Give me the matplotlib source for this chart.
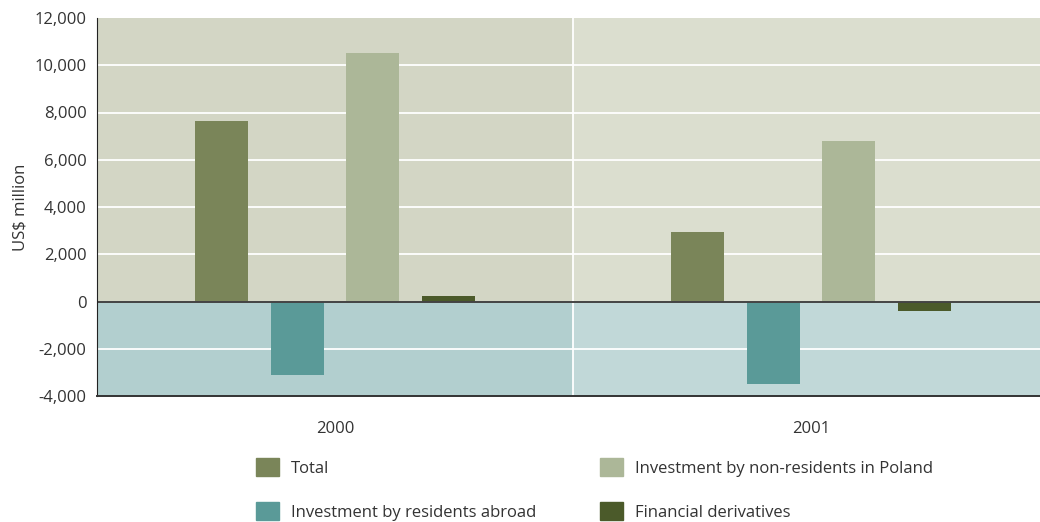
import matplotlib.pyplot as plt
from matplotlib.patches import Rectangle, Patch
from matplotlib.ticker import FuncFormatter

plt.rcParams['font.family'] = ['Open Sans', 'DejaVu Sans']

# Portfolio investment flows, US$ million
years = ['2000', '2001']
series_names = ['Total', 'Investment by residents abroad',
                'Investment by non-residents in Poland', 'Financial derivatives']
total = [7660, 2960]
residents_abroad = [-3130, -3510]
non_residents = [10500, 6810]
derivatives = [250, -420]
y_ticks = [-4000, -2000, 0, 2000, 4000, 6000, 8000, 10000, 12000]

series = [total, residents_abroad, non_residents, derivatives]
colors = ['#7a8559', '#5a9a98', '#acb798', '#4b5a2a']
fs = 12

fig = plt.figure(figsize=(10.4, 5.22), dpi=100)
ax = fig.add_axes([97 / 1040, 1 - 396 / 522, 943 / 1040, 378 / 522])

x_left, x_right = -0.5, -0.5 + 943 / 476
y_low, y_high = y_ticks[0], y_ticks[-1]

# shaded panels: positive / negative halves, one column per year
panel_colors = [('#d3d6c5', '#b2cfcf'), ('#dbdecf', '#c1d8d8')]
for i, (upper, lower) in enumerate(panel_colors):
    ax.add_patch(Rectangle((i - 0.5, 0), 1, y_high, color=upper, lw=0, zorder=0))
    ax.add_patch(Rectangle((i - 0.5, y_low), 1, -y_low, color=lower, lw=0, zorder=0))

for t in y_ticks[1:-1]:
    if t != 0:
        ax.axhline(t, color='white', lw=1.3, zorder=1)
ax.axvline(0.5, color='white', lw=1.3, zorder=1)

step = 0.159
width = 0.111
for k, (vals, c, name) in enumerate(zip(series, colors, series_names)):
    offs = (k - 1.5) * step
    ax.bar([i + offs for i in range(len(years))], vals, width=width,
           color=c, label=name, zorder=2)

ax.axhline(0, color='#444444', lw=1.4, zorder=3)

ax.set_xlim(x_left, x_right)
ax.set_ylim(y_low, y_high)
ax.set_yticks(y_ticks)
ax.yaxis.set_major_formatter(FuncFormatter(lambda v, p: f'{int(v):,}'))
ax.set_xticks(range(len(years)))
ax.set_xticklabels(years)
ax.tick_params(axis='both', length=0, labelsize=fs, colors='#333333')
ax.tick_params(axis='x', pad=18)
ax.tick_params(axis='y', pad=7.5)
ax.set_ylabel('US$ million', fontsize=fs, color='#333333', labelpad=4)

for s in ['top', 'right']:
    ax.spines[s].set_visible(False)
ax.spines['left'].set_color('#222222')
ax.spines['bottom'].set_color('#333333')
ax.spines['bottom'].set_linewidth(1.4)
ax.spines['left'].set_zorder(4)
ax.spines['bottom'].set_zorder(4)

# legend, two columns placed side by side
handles = [Patch(color=c) for c in colors]
for col, idx in enumerate([(0, 1), (2, 3)]):
    leg = fig.legend([handles[i] for i in idx], [series_names[i] for i in idx],
                     loc='upper left',
                     bbox_to_anchor=([251 / 1040, 595 / 1040][col], 1 - 453 / 522),
                     frameon=False, fontsize=fs, handlelength=1.38,
                     handleheight=1.32, handletextpad=0.7, labelspacing=1.5,
                     borderaxespad=0, borderpad=0.3)
    for txt in leg.get_texts():
        txt.set_color('#333333')

fig.savefig('out.png', dpi=100)
